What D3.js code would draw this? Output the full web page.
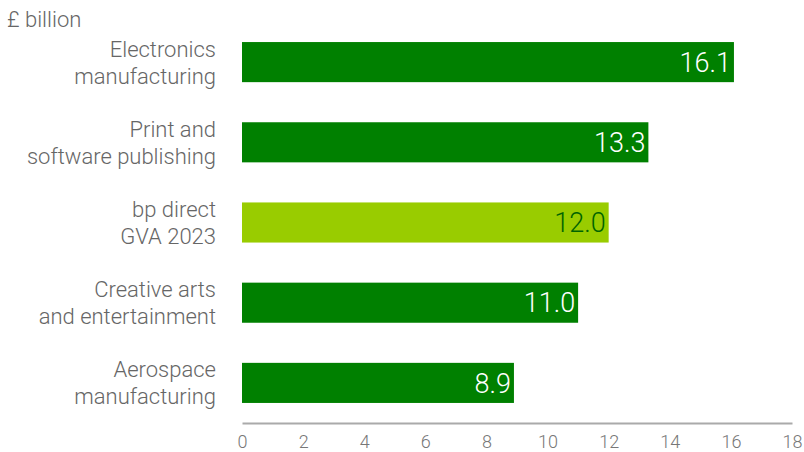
<!DOCTYPE html>
<html>
<head>
<meta charset="utf-8">
<script src="https://cdn.jsdelivr.net/npm/d3@7"></script>
<style>
  body { margin: 0; background: #fff; }
  text { font-family: Roboto, sans-serif; font-weight: 300; }
</style>
</head>
<body>
<div id="grafica"></div>
<script>
// data
const categories = [
    ["Electronics", "manufacturing"],
    ["Print and", "software publishing"],
    ["bp direct", "GVA 2023"],
    ["Creative arts", "and entertainment"],
    ["Aerospace", "manufacturing"]
]
const values = [16.1, 13.3, 12.0, 11.0, 8.9]
const highlight = [false, false, true, false, false]
const ticks = [0, 2, 4, 6, 8, 10, 12, 14, 16, 18]

const svgWidth = 804
const svgHeight = 452
const margin = { top: 22, right: 12, bottom: 29, left: 242 }

const data = values.map((v, i) => ({ label: categories[i], value: v, hl: highlight[i], i }))

const scaleX = d3.scaleLinear()
    .domain([0, 18])
    .range([margin.left, svgWidth - margin.right])

const scaleY = d3.scaleBand()
    .domain(data.map(d => d.i))
    .range([margin.top, svgHeight - margin.bottom])
    .paddingInner(0.5)
    .paddingOuter(0.25)

const svg = d3.select('#grafica')
    .append('svg')
    .attr('width', svgWidth)
    .attr('height', svgHeight)

// unit
svg.append('text')
    .attr('x', 7)
    .attr('y', 27)
    .style('font-size', '22px')
    .style('fill', '#666')
    .text('£ billion')

// bars
svg.selectAll('.bar')
    .data(data)
    .enter()
    .append('rect')
    .attr('class', 'bar')
    .attr('x', scaleX(0))
    .attr('y', d => scaleY(d.i))
    .attr('width', d => scaleX(d.value) - scaleX(0))
    .attr('height', scaleY.bandwidth())
    .style('fill', d => d.hl ? '#99cc00' : '#008000')

// value labels
svg.selectAll('.val')
    .data(data)
    .enter()
    .append('text')
    .attr('class', 'val')
    .attr('x', d => scaleX(d.value) - 3)
    .attr('y', d => scaleY(d.i) + scaleY.bandwidth() / 2)
    .attr('dy', '0.36em')
    .attr('text-anchor', 'end')
    .style('font-size', '27px')
    .style('fill', d => d.hl ? '#006400' : '#fff')
    .text(d => d.value.toFixed(1))

// category labels
const cat = svg.selectAll('.cat')
    .data(data)
    .enter()
    .append('text')
    .attr('class', 'cat')
    .attr('text-anchor', 'end')
    .style('font-size', '22px')
    .style('fill', '#666')

cat.selectAll('tspan')
    .data(d => d.label.map((t, k) => ({ t, k, y: scaleY(d.i) + scaleY.bandwidth() / 2 })))
    .enter()
    .append('tspan')
    .attr('x', 216)
    .attr('y', d => d.y + (d.k === 0 ? -13.5 : 13.5))
    .attr('dy', '0.36em')
    .text(d => d.t)

// x axis
const axisX = d3.axisBottom(scaleX)
    .tickValues(ticks)
    .tickSize(0)
    .tickPadding(12)

const gx = svg.append('g')
    .attr('transform', `translate(0,${svgHeight - margin.bottom})`)
    .call(axisX)

gx.select('.domain').style('stroke', '#aaa').style('stroke-width', 2)
gx.selectAll('text')
    .style('font-size', '18px')
    .style('fill', '#777')
    .style('font-family', 'Roboto, sans-serif')
</script>
</body>
</html>
